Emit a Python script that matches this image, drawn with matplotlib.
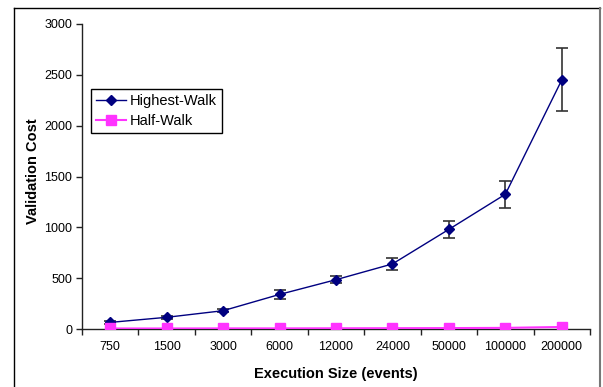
import matplotlib
matplotlib.use('Agg')
import matplotlib.pyplot as plt
import numpy as np
from matplotlib.lines import Line2D

plt.rcParams['font.family'] = ['Liberation Sans', 'DejaVu Sans']

sizes = ['750', '1500', '3000', '6000', '12000', '24000', '50000', '100000', '200000']
highest_walk = [65, 115, 180, 340, 485, 640, 980, 1325, 2450]
highest_err = [15, 12, 15, 40, 35, 60, 80, 130, 310]
half_walk = [5, 5, 6, 6, 7, 8, 9, 11, 20]

fig = plt.figure(figsize=(6.03, 3.87), dpi=100)
W, H = 603, 387
ax = fig.add_axes([82 / W, 1 - 329 / H, (590 - 82) / W, (329 - 24) / H])

pos = np.arange(len(sizes)) + 0.5
ax.errorbar(pos, highest_walk, yerr=highest_err, color='#000080', lw=1.0,
            marker='D', ms=5, ecolor='#333333', elinewidth=1.2, capsize=4.5,
            capthick=1.2, label='Highest-Walk', zorder=3)
ax.plot(pos, half_walk, color='#ff33ff', lw=1.5, marker='s', ms=7,
        label='Half-Walk', zorder=4)

ax.set_xlim(0, len(sizes))
ax.set_ylim(0, 3000)
ax.set_yticks(range(0, 3001, 500))
ax.set_xticks(np.arange(len(sizes) + 1))
ax.set_xticklabels([])
ax.set_xticks(pos, minor=True)
ax.set_xticklabels(sizes, minor=True)
ax.tick_params(axis='x', which='minor', length=0, pad=9, labelsize=9)
ax.tick_params(axis='x', which='major', length=4, width=1, color='#222222')
ax.tick_params(axis='y', length=4, width=1, color='#222222', labelsize=9, pad=3)

for side in ('top', 'right'):
    ax.spines[side].set_visible(False)
for side in ('left', 'bottom'):
    ax.spines[side].set_color('#222222')
    ax.spines[side].set_linewidth(1)

ax.set_xlabel('Execution Size (events)', fontsize=10.5, fontweight='bold')
ax.set_ylabel('Validation Cost', fontsize=10.5, fontweight='bold')
ax.xaxis.set_label_coords(0.5, -0.123)
ax.yaxis.set_label_coords(-0.082, 0.518)

handles = [
    Line2D([], [], color='#000080', lw=1.0, marker='D', ms=5),
    Line2D([], [], color='#ff33ff', lw=1.5, marker='s', ms=7),
]
leg = ax.legend(handles, ['Highest-Walk', 'Half-Walk'], loc='upper left',
                bbox_to_anchor=(0.017, 0.786), borderaxespad=0, fontsize=10.5,
                handlelength=2.1, handletextpad=0.25, borderpad=0.35,
                labelspacing=0.4, fancybox=False, framealpha=1)
leg.get_frame().set_edgecolor('black')
leg.get_frame().set_linewidth(1)

# outer frame around the chart
fig.add_artist(Line2D([14 / W, 14 / W], [0, 1 - 8 / H], transform=fig.transFigure,
                      color='black', lw=1))
fig.add_artist(Line2D([14 / W, 600 / W], [1 - 8 / H, 1 - 8 / H], transform=fig.transFigure,
                      color='black', lw=1))
fig.add_artist(Line2D([600 / W, 600 / W], [0, 1 - 8 / H], transform=fig.transFigure,
                      color='#777777', lw=1.5))

fig.savefig('out.png', dpi=100)
